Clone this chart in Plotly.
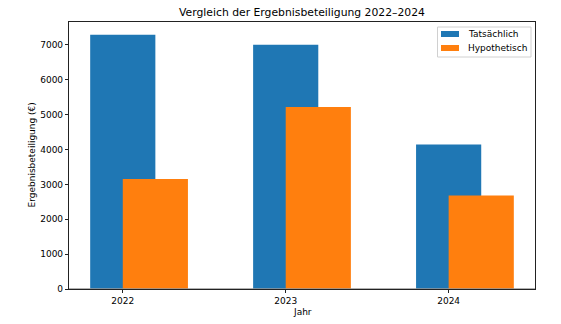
import plotly.graph_objects as go

years = [2022, 2023, 2024]
actual = [7290, 7000, 4140]
hypothetical = [3155, 5220, 2680]
series_names = ["Tatsächlich", "Hypothetisch"]
title_text = "Vergleich der Ergebnisbeteiligung 2022–2024"
x_label = "Jahr"
y_label = "Ergebnisbeteiligung (€)"

BLUE = "#1f77b4"
ORANGE = "#ff7f0e"
COLORS = [BLUE, ORANGE]
FONT = "DejaVu Sans"
FS = 9.0
TXT = "black"
W, H = 561, 324
ML, MR, MT, MB = 69, 26, 22, 35
PW, PH = W - ML - MR, H - MT - MB

def px_x(x):
    return (x - ML) / PW

def px_y(y):
    return (H - MB - y) / PH

fig = go.Figure()
fig.add_trace(go.Bar(x=years, y=actual, name=series_names[0], width=0.4, offset=-0.2,
                     marker=dict(color=BLUE, line=dict(width=0)), showlegend=False))
fig.add_trace(go.Bar(x=years, y=hypothetical, name=series_names[1], width=0.4, offset=0.0,
                     marker=dict(color=ORANGE, line=dict(width=0)), showlegend=False))

shapes = []
annotations = []
# zero line
shapes.append(dict(type="line", xref="paper", yref="y", x0=0, x1=1, y0=0, y1=0,
                   line=dict(color="#999999", width=1.4), layer="above"))
# legend box
shapes.append(dict(type="rect", xref="paper", yref="paper",
                   x0=px_x(437.5), x1=px_x(531), y0=px_y(57), y1=px_y(27),
                   line=dict(color="#d0d0d0", width=1), fillcolor="rgba(255,255,255,0.8)"))
for i, (nm, col) in enumerate(zip(series_names, COLORS)):
    yc = 34 + i * 14
    shapes.append(dict(type="rect", xref="paper", yref="paper",
                       x0=px_x(441), x1=px_x(459), y0=px_y(yc + 3), y1=px_y(yc - 3),
                       line=dict(width=0), fillcolor=col))
    annotations.append(dict(text=nm, xref="paper", yref="paper", x=px_x(466), y=px_y(yc),
                            xanchor="left", yanchor="middle", showarrow=False,
                            font=dict(family=FONT, size=FS, color=TXT)))
annotations.append(dict(text=x_label, xref="paper", yref="paper", x=0.5, y=px_y(312),
                        xanchor="center", yanchor="middle", showarrow=False,
                        font=dict(family=FONT, size=FS, color=TXT)))
annotations.append(dict(text=y_label, xref="paper", yref="paper", x=px_x(31), y=0.5,
                        xanchor="center", yanchor="middle", showarrow=False, textangle=-90,
                        font=dict(family=FONT, size=FS, color=TXT)))

ymax = max(actual + hypothetical) * 1.05
fig.update_layout(
    width=W, height=H,
    barmode="overlay",
    paper_bgcolor="white", plot_bgcolor="white",
    margin=dict(l=ML, r=MR, t=MT, b=MB, autoexpand=False),
    font=dict(family=FONT, size=FS, color=TXT),
    title=dict(text=title_text, x=0.5, xref="paper", xanchor="center",
               y=1 - 12.5 / H, yref="container", yanchor="middle",
               font=dict(family=FONT, size=10.8, color=TXT)),
    showlegend=False,
    shapes=shapes,
    annotations=annotations,
)
fig.update_xaxes(range=[2021.67, 2024.53], tickvals=years, ticktext=[str(y) for y in years],
                 showgrid=False, zeroline=False, showline=True, linecolor="#222222", linewidth=0.8,
                 mirror=True, ticks="outside", ticklen=3.2, tickwidth=0.8, tickcolor="#222222",
                 automargin=False)
fig.update_yaxes(range=[0, ymax], dtick=1000, tick0=0,
                 showgrid=False, zeroline=False, showline=True, linecolor="#222222", linewidth=0.8,
                 mirror=True, ticks="outside", ticklen=3.2, tickwidth=0.8, tickcolor="#222222",
                 automargin=False)

fig.write_html("out.html")
